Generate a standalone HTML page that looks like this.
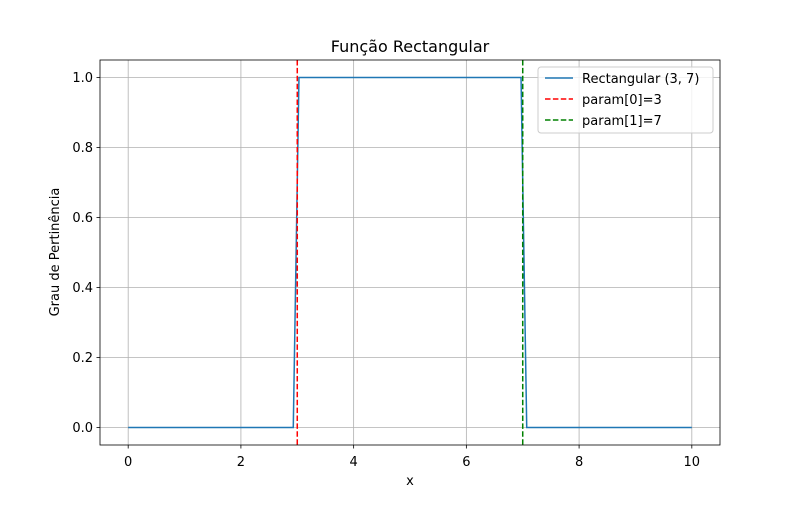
<!DOCTYPE html>
<html><head><meta charset="utf-8"><style>
body{margin:0;background:#fff}
svg text{font-family:"DejaVu Sans","Liberation Sans",sans-serif;fill:#000}
</style></head><body>
<svg id="c" width="800" height="500" xmlns="http://www.w3.org/2000/svg">
<rect width="800" height="500" fill="#fff"/>
<g id="grid"></g>
<g id="axes"></g>
<g id="series"></g>
<rect x="100" y="60" width="620" height="385" fill="none" stroke="#000" stroke-width="0.8"/>
<text x="410" y="52" font-size="16" text-anchor="middle">Função Rectangular</text>
<text x="410" y="485" font-size="13" text-anchor="middle">x</text>
<text transform="translate(59,252) rotate(-90)" font-size="13" text-anchor="middle">Grau de Pertinência</text>
<g>
<rect x="538" y="67" width="175" height="66" rx="3" fill="#fff" fill-opacity="0.8" stroke="#ccc"/>
<g><line x1="545" y1="78" x2="573" y2="78" stroke="#1f77b4" stroke-width="1.5"/><text x="582" y="83" font-size="13">Rectangular (3, 7)</text></g>
<g><line x1="545" y1="99" x2="573" y2="99" stroke="red" stroke-width="1.5" stroke-dasharray="5.5,2.4"/><text x="582" y="104" font-size="13">param[0]=3</text></g>
<g><line x1="545" y1="120" x2="573" y2="120" stroke="green" stroke-width="1.5" stroke-dasharray="5.5,2.4"/><text x="582" y="125" font-size="13">param[1]=7</text></g>
</g>
</svg>
<script>
const xPoints=[0,2.929,3.030,6.970,7.071,10];
const yValues=[0,0,1,1,0,0];
const params=[3,7];
const xTicks=[0,2,4,6,8,10];
const yTicks=[0.0,0.2,0.4,0.6,0.8,1.0];
const sx=v=>100+(v+0.5)/11*620;
const sy=v=>445-(v+0.05)/1.1*385;
const NS='http://www.w3.org/2000/svg';
function mk(tag,attrs,parent){const e=document.createElementNS(NS,tag);for(const k in attrs)e.setAttribute(k,attrs[k]);document.getElementById(parent).appendChild(e);return e;}
xTicks.forEach(t=>{
 const g=mk('line',{x1:sx(t),x2:sx(t),y1:60,y2:445,stroke:'#b0b0b0','stroke-width':0.8},'grid');
 
 
 const tk=mk('line',{x1:sx(t),x2:sx(t),y1:445,y2:448.5,stroke:'#000','stroke-width':0.8},'axes');
 
 
 const tx=mk('text',{x:sx(t),y:466,'font-size':13,'text-anchor':'middle'},'axes');
 tx.textContent=t;
 
 
});
yTicks.forEach(t=>{
 const g=mk('line',{x1:100,x2:720,y1:sy(t),y2:sy(t),stroke:'#b0b0b0','stroke-width':0.8},'grid');
 
 
 const tk=mk('line',{x1:96.5,x2:100,y1:sy(t),y2:sy(t),stroke:'#000','stroke-width':0.8},'axes');
 
 
 const tx=mk('text',{x:93,y:sy(t)+4.5,'font-size':13,'text-anchor':'end'},'axes');
 tx.textContent=t.toFixed(1);
 
 
});
const pl=mk('polyline',{points:xPoints.map((x,i)=>sx(x)+','+sy(yValues[i])).join(' '),fill:'none',stroke:'#1f77b4','stroke-width':1.5},'series');


const colors=['red','green'];
params.forEach((p,i)=>{
 const l=mk('line',{x1:sx(p),x2:sx(p),y1:60,y2:445,stroke:colors[i],'stroke-width':1.5,'stroke-dasharray':'5.5,2.4'},'series');
 
 
});
</script>
</body></html>
